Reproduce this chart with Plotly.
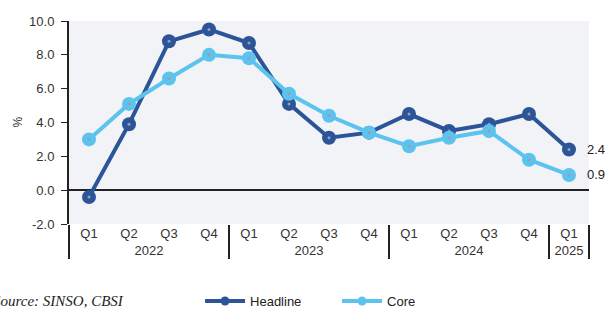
import plotly.graph_objects as go

years = ["2022"] * 4 + ["2023"] * 4 + ["2024"] * 4 + ["2025"]
quarters = ["Q1", "Q2", "Q3", "Q4"] * 3 + ["Q1"]
headline = [-0.4, 3.9, 8.8, 9.5, 8.7, 5.1, 3.1, 3.4, 4.5, 3.5, 3.9, 4.5, 2.4]
core = [3.0, 5.1, 6.6, 8.0, 7.8, 5.7, 4.4, 3.4, 2.6, 3.1, 3.5, 1.8, 0.9]
y_ticks = [-2.0, 0.0, 2.0, 4.0, 6.0, 8.0, 10.0]

HEAD_C = "#2b5598"
CORE_C = "#5cc3ef"
FONT = "Liberation Sans, Arial, sans-serif"

x = [years, quarters]
fig = go.Figure()
for name, vals, col in [("Headline", headline, HEAD_C), ("Core", core, CORE_C)]:
    fig.add_trace(go.Scatter(
        x=x, y=vals, name=name, mode="lines+markers", showlegend=False,
        line=dict(color=col, width=4),
        marker=dict(color=col, size=14),
    ))
    fig.add_trace(go.Scatter(
        x=x, y=vals, mode="markers", showlegend=False, hoverinfo="skip",
        marker=dict(color="#9a9ea8", size=3),
    ))
for name, col in [("Headline", HEAD_C), ("Core", CORE_C)]:
    fig.add_trace(go.Scatter(
        x=[None], y=[None], name=name, mode="lines+markers",
        line=dict(color=col, width=4), marker=dict(color=col, size=9),
    ))

fig.add_annotation(x=[years[-1], quarters[-1]], y=headline[-1], text=f"{headline[-1]:.1f}",
                   xref="x", yref="y", showarrow=False, xanchor="left", xshift=16,
                   font=dict(family=FONT, size=13, color="#222"))
fig.add_annotation(x=[years[-1], quarters[-1]], y=core[-1], text=f"{core[-1]:.1f}",
                   xref="x", yref="y", showarrow=False, xanchor="left", xshift=16,
                   font=dict(family=FONT, size=13, color="#222"))
fig.add_annotation(x=-69 / 520, y=-77 / 203, xref="paper", yref="paper", xanchor="left", yanchor="middle",
                   xshift=-9,
                   text="Source: SINSO, CBSI", showarrow=False,
                   font=dict(family="Liberation Serif, Times New Roman, serif", size=15, color="#222", style="italic"))
fig.add_annotation(x=-52 / 520, y=(4 + 2) / 12, xref="paper", yref="paper", xanchor="center", yanchor="middle",
                   text="%", textangle=-90, showarrow=False,
                   font=dict(family=FONT, size=12, color="#333"))

fig.update_layout(
    width=612, height=309,
    margin=dict(l=69, r=23, t=21, b=85, autoexpand=False),
    paper_bgcolor="white", plot_bgcolor="#f2f3f6",
    font=dict(family=FONT, size=12, color="#333"),
    showlegend=True,
    legend=dict(orientation="h", x=0.252, y=-77 / 203, xanchor="left", yanchor="middle",
                font=dict(family=FONT, size=13, color="#222"), itemwidth=40, entrywidth=82,
                bgcolor="rgba(0,0,0,0)"),
    xaxis=dict(type="multicategory", range=[-0.5, 12.5], showgrid=False, showline=False, automargin=False,
               ticks="",
               showdividers=True, dividercolor="#222", dividerwidth=2,
               tickfont=dict(family=FONT, size=13, color="#333")),
    yaxis=dict(range=[-2, 10], tickvals=y_ticks, ticktext=[f"{v:.1f}" for v in y_ticks],
               showgrid=False, showline=True, linecolor="#222", linewidth=2, automargin=False,
               ticks="outside", ticklen=6, tickcolor="#222", ticklabelstandoff=4,
               zeroline=True, zerolinecolor="#222", zerolinewidth=1.5,
               tickfont=dict(family=FONT, size=13, color="#333")),
)

fig.write_html("out.html", config={"displayModeBar": False},
               post_script="document.body.style.margin='0';")
